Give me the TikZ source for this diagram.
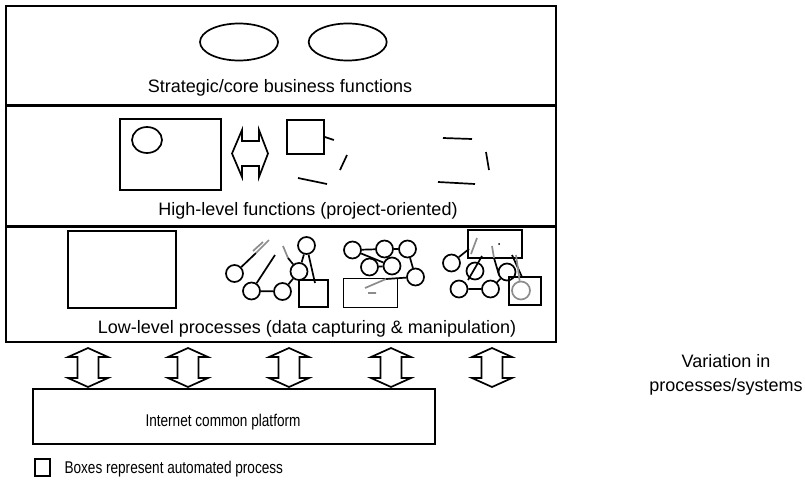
\documentclass[tikz,border=0pt]{standalone}
\usepackage{fontspec}
\setmainfont{Liberation Sans}
\newfontfamily\narrowsans[FakeStretch=0.8]{Liberation Sans}
\usetikzlibrary{positioning,shapes.geometric}

\begin{document}
\begin{tikzpicture}[x=1pt,y=-1pt,
    layer/.style={draw,line width=1.6pt,minimum width=550pt,inner sep=0pt},
    box/.style={draw,line width=1.7pt,inner sep=0pt},
    bubble/.style={circle,draw,line width=1.7pt,minimum size=17pt,inner sep=0pt},
    oval/.style={ellipse,draw,line width=1.7pt,inner sep=0pt},
    wire/.style={line width=1.7pt},
    faint/.style={line width=1.7pt,draw=black!45},
    lbl/.style={font=\fontsize{18}{22}\selectfont,anchor=base},
    lblsmall/.style={font=\narrowsans\fontsize{17}{20}\selectfont,anchor=base},
    updown/.pic={\draw[line width=1.7pt] (0,-19.5) -- (20,-10.5) -- (10.5,-10.5) -- (10.5,10.5) -- (20,10.5) -- (0,19.5) -- (-20,10.5) -- (-10.5,10.5) -- (-10.5,-10.5) -- (-20,-10.5) -- cycle;}]
  \useasboundingbox (0,0) rectangle (805,482);

  \node[layer,minimum height=99pt,anchor=north west] (core) at (5,5) {};
  \node[layer,minimum height=119pt,below=0pt of core] (high) {};
  \node[layer,minimum height=115pt,below=0pt of high] (low) {};

  \node[lbl] (corelbl) at (280,92) {Strategic/core business functions};
  \node[lbl] (highlbl) at (308,215) {High-level functions (project-oriented)};
  \node[lbl] (lowlbl) at (307,333) {Low-level processes (data capturing \& manipulation)};

  \node[oval,minimum width=78pt,minimum height=37pt] (goalA) at (239,42) {};
  \node[oval,minimum width=78pt,minimum height=37pt,right=29pt of goalA] (goalB) {};

  \node[box,minimum width=101pt,minimum height=71pt] (project) at (170.5,154.5) {};
  \node[oval,minimum width=30pt,minimum height=26pt] (task) at (147,140) {};
  \draw[wire] (232,153.5) -- (242,130) -- (242,141) -- (259,141) -- (259,130) -- (268,153.5)
    -- (259,177) -- (259,166) -- (242,166) -- (242,177) -- cycle;
  \node[box,minimum width=37pt,minimum height=34pt] (subtask) at (305.5,137) {};
  \draw[wire] (subtask.east) -- ++(9,3);
  \draw[wire] (347,155) -- (340,170);
  \draw[wire] (298,178) -- (327,184);
  \draw[wire] (443,138) -- (472,139);
  \draw[wire] (486,152) -- (489,170);
  \draw[wire] (438,182) -- (475,184);

  \node[box,minimum width=108pt,minimum height=77pt] (manual) at (122,269.5) {};

  \node[bubble] (pa) at (234.5,273.5) {};
  \node[bubble] (pb) at (251.5,291) {};
  \node[bubble] (pc) at (282.5,291.5) {};
  \node[bubble] (pd) at (299,271.5) {};
  \node[bubble] (pe) at (306.5,245.5) {};
  \node[box,minimum width=29pt,minimum height=27pt] (autoA) at (313.5,293.5) {};
  \draw[wire] (pb) -- (pc) (pc) -- (pd) (pd) -- (pe);
  \draw[wire] (pe) -- (315,283);
  \draw[wire] (pa) -- (256,253);
  \draw[faint] (256,253) -- (269,240) (253,251) -- (263,242);
  \draw[wire] (pb) -- (275,255);
  \draw[faint] (283,246) -- (288,258);
  \draw[wire] (288,258) -- (pd);

  \node[bubble] (qa) at (352.5,250) {};
  \node[bubble] (qb) at (384.5,249) {};
  \node[bubble] (qc) at (407.5,249) {};
  \node[bubble] (qd) at (369.5,267) {};
  \node[bubble] (qe) at (392,266) {};
  \node[bubble] (qf) at (415.5,277) {};
  \node[box,minimum width=54pt,minimum height=29pt] (autoB) at (370.5,293) {};
  \draw[wire] (qa) -- (qb) (qb) -- (qc) (qd) -- (qe) (qa) -- (qe) (qc) -- (qf);
  \coordinate (qjoin) at (386,279);
  \draw[wire] (qf) -- (qjoin);
  \draw[faint] (qjoin) -- (365,288) (368,293) -- (376,293);

  \node[box,minimum width=54pt,minimum height=28pt] (autoC) at (495,244) {};
  \node[bubble] (ra) at (451.5,263) {};
  \node[bubble] (rb) at (475,271) {};
  \node[bubble] (rc) at (459,289) {};
  \node[bubble] (rd) at (490.5,289) {};
  \node[bubble] (re) at (507,272) {};
  \node[box,minimum width=32pt,minimum height=28pt] (autoD) at (525,291) {};
  \node[bubble,draw=black!45,minimum size=18pt] (rf) at (521,290.5) {};
  \draw[wire] (rc) -- (rd) (rd) -- (re);
  \draw[wire] (ra) -- (469,249);
  \draw[faint] (477,238) -- (471,254);
  \draw[wire] (482,256) -- (468,280);
  \draw[faint] (492,246) -- (494,258);
  \draw[wire] (494,258) -- (499,275);
  \fill (499,244) circle (1pt);
  \draw[wire] (512,255) -- (522,277);
  \draw[faint] (516,255) -- (rf);

  \foreach \x [count=\i] in {88,188,289,391,492}
    \pic (link\i) at (\x,367.5) {updown};

  \node[box,line width=1.5pt,minimum width=402pt,minimum height=55pt] (platform) at (234,416.5) {};
  \node[lblsmall] (platformlbl) at (223,426) {Internet common platform};

  \node[lbl,font=\fontsize{18}{24}\selectfont,align=center] (variation) at (726,391) {Variation in\\processes/systems};

  \node[box,line width=1.2pt,minimum width=15pt,minimum height=17pt] (key) at (42.5,467.5) {};
  \node[lblsmall,anchor=base west] (keylbl) at (61,473) {Boxes represent automated process};
\end{tikzpicture}
\end{document}
